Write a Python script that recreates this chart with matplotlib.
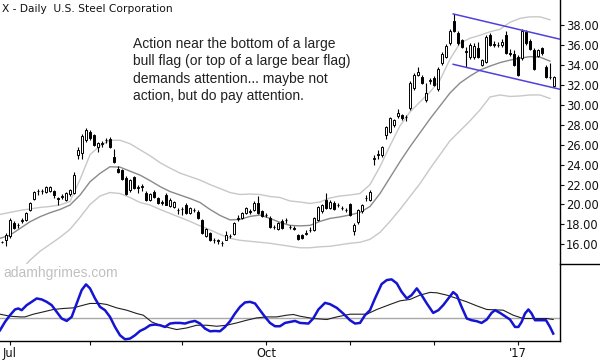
import matplotlib
matplotlib.use("Agg")
import numpy as np
import matplotlib.pyplot as plt
from matplotlib.lines import Line2D

# daily bars, bar 0 = first trading day of July 2016
first_bar = -2
opens = [16.2, 16.45, 16.8, 18.15, 17.9, 18.35, 18.45, 19.45, 20.5, 21.35,
         21.4, 21.3, 21.4, 21.35, 20.6, 20.8, 20.45, 21.05, 21.2, 25.0,
         25.2, 26.5, 27.3, 26.95, 25.75, 26.1, 26.45, 26.6, 24.8, 23.6,
         23.45, 22.7, 21.45, 22.75, 21.7, 21.8, 21.2, 20.45, 21.3, 20.6,
         20.15, 20.95, 19.85, 19.7, 19.45, 19.5, 19.95, 19.1, 19.45, 19.2,
         18.4, 16.85, 17.1, 16.45, 16.35, 16.1, 16.45, 16.8, 17.05, 18.55,
         18.6, 19.1, 19.3, 19.45, 20.1, 19.3, 18.9, 18.6, 17.7, 17.5,
         18.3, 18.4, 17.7, 17.6, 16.95, 16.9, 17.05, 17.4, 17.45, 18.45,
         19.3, 20.4, 19.6, 20.1, 19.95, 19.6, 19.45, 20.0, 17.3, 18.2,
         19.3, 20.6, 20.45, 24.6, 24.95, 25.0, 27.0, 27.3, 28.0, 28.85,
         29.0, 28.75, 29.7, 31.7, 33.0, 32.8, 30.5, 32.45, 32.75, 31.6,
         34.2, 34.85, 36.2, 38.45, 37.2, 36.5, 35.45, 34.8, 34.8, 35.7,
         34.0, 34.35, 37.0, 36.1, 36.0, 36.0, 37.0, 35.2, 35.1, 34.8,
         34.7, 37.35, 36.45, 35.55, 34.9, 35.7, 33.85, 32.8, 31.95]
highs = [16.35, 17.1, 18.6, 18.3, 18.1, 18.6, 19.2, 20.2, 21.4, 21.6,
         21.6, 21.9, 21.9, 21.5, 20.8, 21.1, 21.3, 21.6, 23.3, 25.8,
         27.1, 27.7, 27.5, 27.1, 26.3, 26.4, 26.7, 26.8, 25.6, 23.9,
         23.6, 22.9, 22.6, 22.9, 22.0, 22.1, 21.4, 21.2, 21.45, 20.8,
         20.4, 21.15, 20.6, 20.3, 19.6, 19.7, 20.1, 19.7, 19.6, 19.4,
         18.5, 17.6, 17.2, 16.6, 16.5, 16.3, 17.3, 17.0, 18.2, 18.95,
         19.2, 19.7, 19.5, 20.3, 20.9, 19.4, 19.1, 18.8, 17.9, 18.2,
         18.5, 18.6, 17.9, 17.8, 17.0, 17.0, 17.4, 17.7, 18.7, 19.8,
         20.0, 21.2, 20.4, 20.3, 20.1, 19.8, 19.6, 20.1, 18.1, 19.5,
         20.0, 21.0, 21.5, 25.0, 25.5, 25.9, 27.9, 28.8, 28.6, 29.55,
         29.1, 29.0, 32.4, 33.2, 33.8, 33.0, 32.2, 32.7, 32.9, 33.8,
         35.3, 36.1, 37.6, 39.13, 37.4, 36.6, 35.85, 36.2, 36.2, 36.3,
         34.6, 37.0, 37.2, 36.4, 36.3, 36.6, 37.4, 35.6, 35.5, 35.0,
         37.6, 37.5, 36.6, 35.7, 35.6, 35.85, 34.0, 34.2, 32.9]
lows = [16.1, 15.8, 16.6, 17.5, 17.6, 18.1, 18.3, 19.3, 20.4, 21.0,
        21.1, 21.2, 21.3, 20.6, 19.95, 20.5, 20.3, 20.9, 21.1, 24.6,
        24.6, 26.3, 26.5, 25.9, 25.3, 25.8, 26.2, 25.7, 24.2, 23.2,
        22.5, 21.0, 21.3, 21.6, 21.2, 21.4, 20.35, 20.3, 20.7, 20.0,
        19.9, 19.9, 19.7, 19.6, 19.0, 18.95, 19.0, 19.0, 19.2, 18.5,
        17.0, 16.7, 16.3, 16.1, 16.0, 15.8, 16.4, 16.6, 16.9, 18.3,
        18.5, 19.0, 19.0, 19.35, 19.0, 18.7, 18.7, 17.6, 17.5, 17.4,
        17.5, 18.1, 17.5, 17.4, 16.4, 16.5, 16.9, 17.2, 17.3, 18.3,
        19.1, 19.5, 19.5, 19.4, 19.7, 19.4, 19.2, 18.8, 16.9, 18.0,
        19.1, 20.3, 20.3, 24.0, 24.6, 24.8, 26.6, 27.2, 27.8, 28.7,
        28.5, 28.4, 29.5, 31.5, 32.9, 32.1, 30.3, 32.1, 31.9, 31.4,
        34.0, 34.7, 36.0, 37.3, 36.0, 35.7, 33.85, 34.6, 34.6, 34.7,
        33.9, 34.2, 35.9, 35.8, 35.8, 35.8, 35.1, 34.9, 33.9, 32.9,
        34.5, 36.0, 35.5, 33.5, 34.8, 35.0, 32.7, 32.6, 31.8]
closes = [16.25, 16.9, 18.4, 17.6, 17.95, 18.4, 19.1, 20.1, 21.3, 21.4,
          21.35, 21.8, 21.8, 20.95, 20.55, 20.85, 21.15, 21.45, 22.95, 25.5,
          26.9, 27.5, 26.65, 26.0, 26.2, 26.15, 26.5, 25.8, 24.3, 23.3,
          22.6, 21.1, 22.45, 21.7, 21.75, 21.85, 20.45, 21.05, 20.8, 20.1,
          20.2, 19.95, 20.45, 20.2, 19.4, 19.55, 19.1, 19.6, 19.4, 18.6,
          17.1, 17.5, 16.45, 16.4, 16.35, 16.1, 16.9, 16.85, 18.1, 18.6,
          19.1, 19.6, 19.25, 20.15, 19.1, 18.85, 18.95, 17.7, 17.75, 18.1,
          17.6, 18.45, 17.7, 17.55, 16.5, 16.6, 17.1, 17.45, 18.6, 19.7,
          19.9, 19.6, 20.25, 19.5, 19.9, 19.65, 19.4, 18.95, 17.9, 19.4,
          19.9, 20.65, 21.25, 24.65, 25.1, 25.8, 27.8, 28.65, 28.45, 29.15,
          28.65, 28.8, 32.2, 33.0, 33.35, 32.2, 31.15, 32.5, 32.0, 33.65,
          35.15, 35.9, 37.45, 37.45, 36.2, 35.85, 35.35, 36.0, 35.9, 34.85,
          34.5, 36.85, 36.05, 36.05, 36.05, 36.35, 35.2, 35.15, 34.0, 33.0,
          37.45, 36.2, 35.6, 33.6, 35.5, 35.2, 32.85, 32.85, 32.8]

# channel lines read every 2.5 bars
band_x = np.arange(-2.5, 136, 2.5)
upper = [19.0, 19.2, 19.4, 19.55, 19.7, 19.8, 19.95, 20.3, 22.5, 25.0,
         25.9, 26.45, 26.45, 26.1, 25.5, 24.9, 24.2, 23.65, 23.15, 22.8,
         22.45, 22.0, 21.6, 21.2, 21.0, 21.05, 21.0, 20.8, 20.7, 20.35,
         20.25, 20.1, 20.25, 20.65, 20.85, 20.95, 21.1, 22.0, 23.8, 25.9,
         27.9, 29.3, 30.3, 31.3, 32.5, 34.6, 36.2, 36.7, 37.0, 37.35,
         37.6, 38.3, 38.7, 38.85, 38.85, 38.55]
middle = [16.6, 16.92, 17.59, 18.26, 18.77, 19.17, 19.5, 19.94, 20.94, 22.28,
          23.12, 23.79, 23.75, 23.35, 22.95, 22.4, 21.8, 21.3, 20.95, 20.6,
          20.2, 19.5, 18.9, 18.45, 18.5, 18.8, 18.94, 18.6, 18.2, 17.9,
          17.85, 17.9, 18.3, 18.6, 18.75, 18.95, 19.2, 19.8, 21.1, 22.7,
          24.3, 25.8, 27.2, 28.6, 29.9, 31.2, 32.2, 32.9, 33.5, 33.9,
          34.25, 34.5, 34.7, 34.85, 34.8, 34.4]
lower = [12.0, 12.6, 13.3, 14.4, 15.3, 16.0, 16.7, 17.5, 18.7, 20.0,
         20.85, 21.2, 21.1, 20.7, 20.2, 19.95, 19.5, 19.1, 18.7, 18.3,
         17.85, 17.45, 17.0, 16.6, 16.4, 16.3, 16.2, 16.1, 15.95, 15.8,
         15.65, 15.65, 15.75, 15.8, 15.95, 16.1, 16.2, 16.5, 17.2, 18.3,
         19.5, 20.8, 22.1, 23.6, 25.0, 26.4, 27.4, 28.4, 29.5, 30.8,
         31.0, 30.85, 30.9, 31.0, 31.0, 30.65]

# flag trend lines
flag_x = [110.8, 137.5]
flag_top = [39.14, 36.6]
flag_bottom = [34.08, 31.57]

# oscillator (blue) and its average (black)
osc_x = [-2.5, -1.25, 0, 1.25, 2.08, 2.92, 4.17, 5.42, 6.67, 7.92,
         9.17, 10.42, 11.67, 12.92, 14.17, 15.42, 16.67, 17.92, 19.0, 20.0,
         21.25, 22.5, 23.75, 25.0, 26.25, 27.5, 28.75, 30.0, 31.25, 32.5,
         33.75, 35.0, 36.25, 37.5, 38.75, 40.0, 41.25, 42.5, 43.75, 45.0,
         46.25, 47.5, 48.75, 50.0, 51.25, 52.5, 53.75, 55.0, 56.25, 57.5,
         58.75, 60.0, 61.25, 62.5, 63.75, 65.0, 66.25, 67.5, 68.75, 70.0,
         71.25, 72.5, 74.6, 75.8, 77.1, 78.75, 80.0, 81.7, 83.3, 85.0,
         86.25, 87.5, 88.75, 90.0, 91.25, 92.9, 94.2, 95.4, 96.7, 97.9,
         99.2, 100.4, 101.7, 102.9, 104.2, 105.8, 107.1, 108.3, 109.6, 110.8,
         111.7, 112.9, 114.2, 115.4, 116.7, 117.9, 119.2, 120.4, 121.25, 122.5,
         123.75, 125.0, 126.25, 127.1, 127.9, 128.75, 129.6, 130.4, 131.25, 132.5,
         134.0, 135.0, 135.8]
osc = [-1.27, -0.44, 0.23, 0.80, 0.90, 0.73, 1.23, 1.56, 1.90, 1.80,
       1.56, 1.23, 0.56, -0.10, -0.34, 0.06, 1.40, 2.73, 3.30, 2.90,
       1.90, 1.06, 0.73, 0.06, -0.94, -1.77, -2.17, -2.10, -1.77, -1.34,
       -1.10, -0.77, -0.70, -0.77, -0.94, -0.60, -0.54, -0.54, -0.60, -0.44,
       -0.34, -0.60, -1.10, -1.37, -1.34, -1.37, -0.94, -0.37, 0.40, 1.06,
       1.50, 1.56, 1.40, 0.73, 0.06, -0.54, -0.87, -0.87, -0.54, -0.44,
       -0.34, -0.54, -0.60, -0.10, 0.80, 1.46, 1.33, 0.96, 0.40, -0.27,
       -0.60, -0.54, 0.23, 0.73, 1.90, 3.33, 3.73, 3.80, 3.40, 2.56,
       1.90, 2.23, 2.90, 2.23, 1.40, 0.46, 0.73, 1.23, 1.90, 2.53,
       2.23, 1.06, -0.10, -0.27, -0.37, -0.54, -0.20, 0.46, 0.73, 0.46,
       0.13, -0.20, -0.94, -0.94, -0.44, 0.40, 0.80, 0.40, -0.27, -0.27,
       -0.27, -0.94, -1.60]
ma_x = [-2.5, 0, 2.5, 3.75, 5.83, 8.33, 10.83, 13.33, 15.83, 18.33,
        20.0, 22.5, 24.17, 26.67, 29.17, 31.67, 33.33, 35.42, 37.5, 40.0,
        41.67, 44.17, 46.67, 49.17, 51.67, 54.17, 56.67, 59.17, 61.67, 64.17,
        66.67, 69.17, 70.83, 72.5, 75.8, 79.2, 81.7, 85.0, 89.2, 91.7,
        95.0, 97.5, 100.0, 102.5, 105.0, 106.7, 109.2, 111.7, 114.2, 116.7,
        119.2, 123.3, 125.8, 128.3, 130.8, 134.2, 135.8]
osc_ma = [0.33, 0.13, 0.06, 0.06, 0.33, 0.56, 0.80, 0.90, 0.96, 1.23,
          1.40, 1.40, 1.30, 0.96, 0.73, 0.40, 0.23, -0.44, -0.77, -1.04,
          -1.20, -1.04, -0.77, -0.77, -0.87, -0.77, -0.54, -0.27, -0.04, 0.06,
          0.06, 0.23, 0.30, 0.13, -0.10, -0.20, 0.06, 0.33, 0.33, 0.80,
          1.30, 1.66, 1.80, 2.23, 2.50, 2.46, 2.23, 1.90, 1.56, 1.16,
          0.80, 0.73, 0.23, -0.10, -0.10, -0.10, -0.20]

month_pos = [0, 20, 43, 64, 85, 106, 127]
month_labels = ['Jul', '', '', 'Oct', '', '', "'17"]
price_ticks = np.arange(16, 39, 2)

note = ("Action near the bottom of a large\n"
        "bull flag (or top of a large bear flag)\n"
        "demands attention... maybe not\n"
        "action, but do pay attention.")

W, H = 600, 360
fig = plt.figure(figsize=(6, 3.6), dpi=100)
ax = fig.add_axes([0, 1 - 264 / H, 560 / W, 264 / H])
ax2 = fig.add_axes([0, 1 - 341 / H, 560 / W, 77 / H])

bars = np.arange(first_bar, first_bar + len(opens))
o = np.array(opens)
c = np.array(closes)

# channel
ax.plot(band_x, upper, color='#c8c8c8', lw=1.0, zorder=1)
ax.plot(band_x, lower, color='#c8c8c8', lw=1.0, zorder=1)
ax.plot(band_x, middle, color='#8a8a8a', lw=1.0, zorder=1)

# candles
ax.vlines(bars, lows, highs, color='black', lw=0.8, zorder=2)
body_lo = np.minimum(o, c)
body_h = np.maximum(np.abs(c - o), 0.04)
face = np.where(c >= o, 'white', 'black')
ax.bar(bars, body_h, bottom=body_lo, width=0.62, color=face,
       edgecolor='black', linewidth=0.7, zorder=3)

# flag
ax.plot(flag_x, flag_top, color='#5040dc', lw=1.1, zorder=4)
ax.plot(flag_x, flag_bottom, color='#5040dc', lw=1.1, zorder=4)

ax.set_xlim(-2.5, 137.5)
ax.set_ylim(14.02, 40.54)
ax.set_xticks([])
ax.yaxis.tick_right()
ax.set_yticks(price_ticks)
ax.set_yticklabels([f'{v:.2f}' for v in price_ticks])
ax.tick_params(axis='y', direction='out', length=3, width=0.8,
               labelsize=8.3, pad=1.5, colors='#111111')
for s in ['top', 'left', 'bottom']:
    ax.spines[s].set_visible(False)
ax.spines['right'].set_linewidth(1.0)

# oscillator panel
ax2.axhline(0, color='#a8a8a8', lw=1.0, zorder=1)
ax2.plot(ma_x, osc_ma, color='#202020', lw=0.8, zorder=2)
ax2.plot(osc_x, osc, color='#1414d2', lw=1.8, zorder=3)
ax2.set_xlim(-2.5, 137.5)
ax2.set_ylim(-2.34, 5.33)
ax2.set_yticks([])
ax2.set_xticks(month_pos)
ax2.set_xticklabels(month_labels)
ax2.tick_params(axis='x', direction='out', length=3, width=0.8,
                labelsize=8.3, pad=1.5, colors='#111111')
for s in ['top', 'left']:
    ax2.spines[s].set_visible(False)
ax2.spines['right'].set_linewidth(1.0)
ax2.spines['bottom'].set_linewidth(1.0)

fig.add_artist(Line2D([560 / W, 1], [1 - 264 / H] * 2, color='black', lw=1.0))

fig.text(2 / W, 1 - 9 / H, 'X - Daily  U.S. Steel Corporation',
         fontsize=7.7, va='center', ha='left', color='#111111')
fig.text(133 / W, 1 - 37 / H, note, fontsize=10, family='Liberation Sans',
         va='top', ha='left', linespacing=1.3, color='#222222')
fig.text(3 / W, 1 - 273 / H, 'adamhgrimes.com', fontsize=10,
         family='Liberation Sans', va='center', ha='left', color='#c0c0c0')

fig.savefig('out.png', dpi=100)
